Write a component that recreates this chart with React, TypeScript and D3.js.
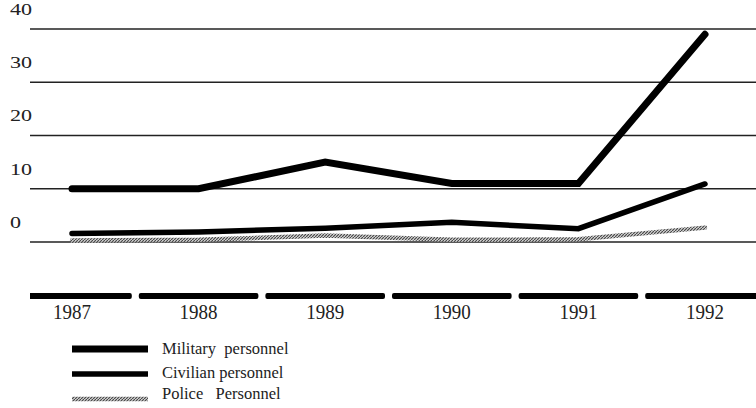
import React from 'react';
import * as d3 from 'd3';

// values (number of personnel, in thousands)
const years = ['1987', '1988', '1989', '1990', '1991', '1992'];
const military = [10, 10, 15, 11, 11, 39];
const civilian = [1.6, 1.9, 2.6, 3.7, 2.5, 10.9];
const police = [0.3, 0.4, 1.2, 0.4, 0.5, 2.7];
const yTicks = [0, 10, 20, 30, 40];
const legendLabels = ['Military  personnel', 'Civilian personnel', 'Police   Personnel'];

const W = 756;
const H = 408;
const FONT = '"Liberation Serif", "Times New Roman", serif';

export default function App() {
	// x positions of the years
	const x = d3.scalePoint<string>().domain(years).range([72, 705]);
	const y = d3.scaleLinear().domain([0, 40]).range([242, 29]);
	const step = x.step();

	const line = d3.line<number>()
		.x((d, i) => x(years[i]) as number)
		.y(d => y(d));

	const series = [
		{ data: military, stroke: '#000', width: 7 },
		{ data: civilian, stroke: '#000', width: 5.5 },
		{ data: police, stroke: 'url(#hatch)', width: 4.5 },
	];

	return (
		<svg width={W} height={H} style={{ position: 'absolute', left: 0, top: 0, background: '#fff' }}>
			<defs>
				<pattern id="hatch" patternUnits="userSpaceOnUse" width="3" height="3">
					<rect width="3" height="3" fill="#d0d0d0" />
					<path d="M0,3 L3,0" stroke="#444" strokeWidth="1.1" />
				</pattern>
				<clipPath id="axisClip">
					<rect x={30} y={280} width={W - 30} height={30} />
				</clipPath>
			</defs>

			{/* grid lines + y labels */}
			{yTicks.map(t => (
				<g key={t}>
					<line x1={30} x2={W} y1={y(t)} y2={y(t)} stroke="#222" strokeWidth={1.3} />
					<text x={10} y={y(t) - 14} fontFamily={FONT} fontSize={17}
						transform={`translate(10,${y(t) - 14}) scale(1.3,1) translate(-10,${-(y(t) - 14)})`}
						fill="#222">{t}</text>
				</g>
			))}

			{/* dashed bottom axis, one dash per year band */}
			<g clipPath="url(#axisClip)">
				{years.map(yr => (
					<rect key={yr} x={(x(yr) as number) - step / 2 + 3.5} y={293} width={step - 7} height={6}
						rx={2} fill="#000" />
				))}
			</g>
			{years.map(yr => (
				<text key={yr} x={x(yr)} y={319} textAnchor="middle" fontFamily={FONT} fontSize={19}
					transform={`translate(0,319) scale(1,1.15) translate(0,-319)`}
					fill="#222">{yr}</text>
			))}

			{/* series */}
			{series.slice().reverse().map((s, i) => (
				<path key={i} d={line(s.data) || ''} fill="none" stroke={s.stroke} strokeWidth={s.width}
					strokeLinejoin="miter" strokeLinecap="round" />
			))}

			{/* legend */}
			{series.map((s, i) => {
				const ly = [349, 374, 399][i];
				return (
					<g key={i}>
						<line x1={72} x2={148} y1={ly} y2={ly} stroke={s.stroke} strokeWidth={s.width} />
						<text x={162} y={[354, 378, 399][i]} fontFamily={FONT} fontSize={16.5}
							fill="#222" style={{ whiteSpace: 'pre' }}>{legendLabels[i]}</text>
					</g>
				);
			})}
		</svg>
	);
}
